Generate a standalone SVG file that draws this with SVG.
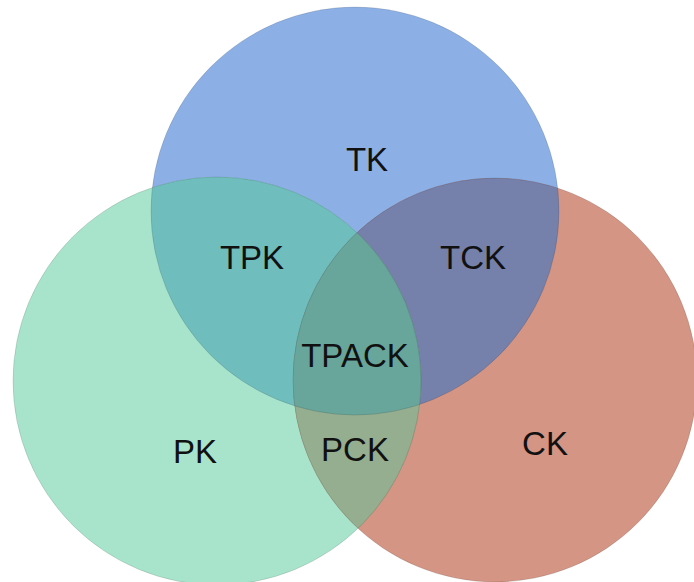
<svg xmlns="http://www.w3.org/2000/svg" width="694" height="582" viewBox="0 0 694 582">
<style>
.lbl{font-family:"Liberation Sans",Arial,sans-serif;font-size:33px;fill:#111;text-anchor:middle}
.edge{fill:none;stroke:#000;stroke-opacity:0.12;stroke-width:1}
</style>
<defs>
<clipPath id="cB"><circle cx="355" cy="211" r="204"/></clipPath>
<clipPath id="cG"><circle cx="217" cy="381" r="204"/></clipPath>
<clipPath id="cR"><circle cx="495" cy="380" r="202"/></clipPath>
</defs>
<rect width="694" height="582" fill="#fff"/>
<g id="TK"><circle cx="355" cy="211" r="204" fill="#8cb0e6"/></g>
<g id="PK"><circle cx="217" cy="381" r="204" fill="#a8e4cb"/></g>
<g id="CK"><circle cx="495" cy="380" r="202" fill="#d49584"/></g>
<g id="TPK"><circle cx="217" cy="381" r="204" fill="#6fbdbd" clip-path="url(#cB)"/></g>
<g id="TCK"><circle cx="495" cy="380" r="202" fill="#7580ab" clip-path="url(#cB)"/></g>
<g id="PCK"><circle cx="495" cy="380" r="202" fill="#94ae8f" clip-path="url(#cG)"/></g>
<g id="TPACK"><g clip-path="url(#cG)"><circle cx="495" cy="380" r="202" fill="#68a69c" clip-path="url(#cB)"/></g></g>
<g id="edges">
<circle class="edge" cx="355" cy="211" r="204"/>
<circle class="edge" cx="217" cy="381" r="204"/>
<circle class="edge" cx="495" cy="380" r="202"/>
</g>
<g id="labels">
<text class="lbl" x="367" y="171">TK</text>
<text class="lbl" x="252" y="269">TPK</text>
<text class="lbl" x="473" y="269">TCK</text>
<text class="lbl" x="355" y="367">TPACK</text>
<text class="lbl" x="195" y="463">PK</text>
<text class="lbl" x="355" y="461">PCK</text>
<text class="lbl" x="545" y="455">CK</text>
</g>
</svg>
